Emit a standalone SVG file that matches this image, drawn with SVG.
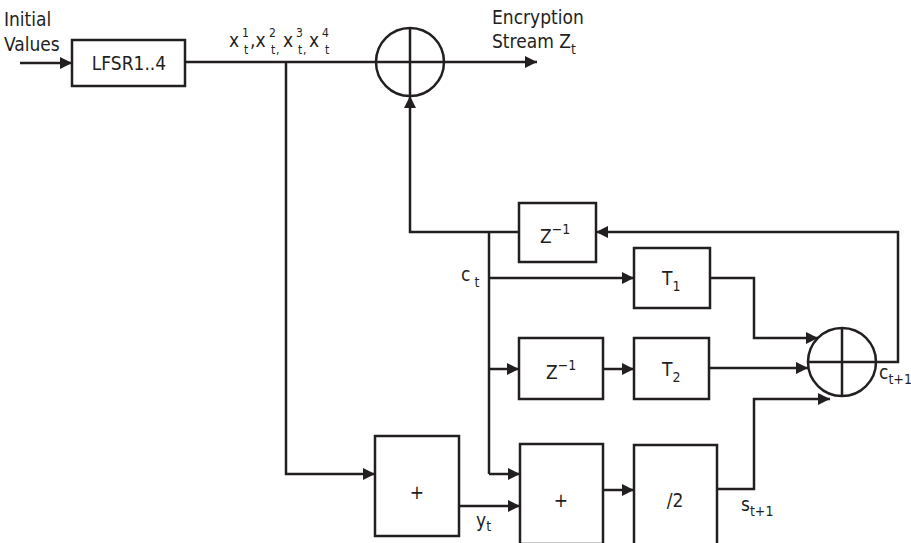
<svg xmlns="http://www.w3.org/2000/svg" width="911" height="543" viewBox="0 0 911 543">
<defs>
<marker id="ah" viewBox="0 0 12 12" refX="12" refY="6" markerWidth="12" markerHeight="12" markerUnits="userSpaceOnUse" orient="auto">
<path d="M0,0 L12,6 L0,12 z" fill="#231f20"/>
</marker>
</defs>
<style>
.box{fill:#fff;stroke:#231f20;stroke-width:2.5}
.ln{fill:none;stroke:#231f20;stroke-width:2.5}
.ar{fill:none;stroke:#231f20;stroke-width:2.5;marker-end:url(#ah)}
text{font-family:"Liberation Sans Narrow","DejaVu Sans Condensed","Liberation Sans",sans-serif;fill:#231f20;font-size:19px}
.c{text-anchor:middle}
.s{font-size:14px}
.t{font-size:12px}
</style>
<rect width="911" height="543" fill="#fff"/>
<g id="connectors">
<path class="ar" d="M20,63 H72"/>
<path class="ln" d="M185,62 H375"/>
<path class="ar" d="M286,62 V474 H375"/>
<path class="ar" d="M445,62 H537"/>
<path class="ar" d="M519,232 H410 V96"/>
<path class="ar" d="M876,362 H898 V232 H596"/>
<path class="ln" d="M489,232 V474"/>
<path class="ar" d="M489,278 H634"/>
<path class="ar" d="M489,369 H519"/>
<path class="ar" d="M489,474 H520"/>
<path class="ar" d="M603,369 H634"/>
<path class="ar" d="M710,278 H754 V338 H818"/>
<path class="ar" d="M709,368 H808"/>
<path class="ar" d="M459,506 H520"/>
<path class="ar" d="M603,490 H634"/>
<path class="ar" d="M717,489 H754 V399 H830"/>
</g>
<g id="lfsr"><rect class="box" x="72" y="40" width="113" height="46"/><text class="c" x="129" y="70">LFSR1..4</text></g>
<g id="xor1"><circle class="box" cx="410" cy="62" r="34"/><path class="ln" d="M376,62 H444 M410,28 V96"/></g>
<g id="xor2"><circle class="box" cx="842" cy="362" r="34"/><path class="ln" d="M808,362 H876 M842,328 V396"/></g>
<g id="z1"><rect class="box" x="519" y="203" width="77" height="59"/><text x="540" y="243">Z<tspan class="s" dy="-9">−1</tspan></text></g>
<g id="t1"><rect class="box" x="634" y="248" width="76" height="60"/><text x="662" y="285">T<tspan class="s" dy="6">1</tspan></text></g>
<g id="z2"><rect class="box" x="519" y="338" width="84" height="61"/><text x="546" y="379">Z<tspan class="s" dy="-9">−1</tspan></text></g>
<g id="t2"><rect class="box" x="634" y="338" width="75" height="61"/><text x="662" y="376">T<tspan class="s" dy="6">2</tspan></text></g>
<g id="add1"><rect class="box" x="375" y="436" width="84" height="100"/><text class="c" x="417" y="499">+</text></g>
<g id="add2"><rect class="box" x="520" y="444" width="83" height="100"/><text class="c" x="561" y="507">+</text></g>
<g id="div2"><rect class="box" x="634" y="445" width="83" height="100"/><text class="c" x="675" y="507">/2</text></g>
<g id="labels">
<text x="4" y="26">Initial</text>
<text x="4" y="51">Values</text>
<text x="492" y="24">Encryption</text>
<text x="492" y="48">Stream Z<tspan class="s" dy="6">t</tspan></text>
<text x="229" y="47">x</text><text class="t" x="242" y="37">1</text><text class="t" x="244" y="54">t</text><text x="250" y="47">,x</text><text class="t" x="269" y="37">2</text><text class="t" x="271" y="54">t</text><text class="t" x="276" y="54">,</text>
<text x="283" y="47">x</text><text class="t" x="296" y="37">3</text><text class="t" x="298" y="54">t</text><text class="t" x="303" y="54">,</text>
<text x="309" y="47">x</text><text class="t" x="322" y="37">4</text><text class="t" x="325" y="54">t</text>
<text x="461" y="281">c<tspan class="s" dy="6"> t</tspan></text>
<text x="879" y="379">c<tspan class="s" dy="5">t+1</tspan></text>
<text x="741" y="511">s<tspan class="s" dy="5">t+1</tspan></text>
<text x="476" y="527">y<tspan class="s" dy="4">t</tspan></text>
</g>
</svg>
